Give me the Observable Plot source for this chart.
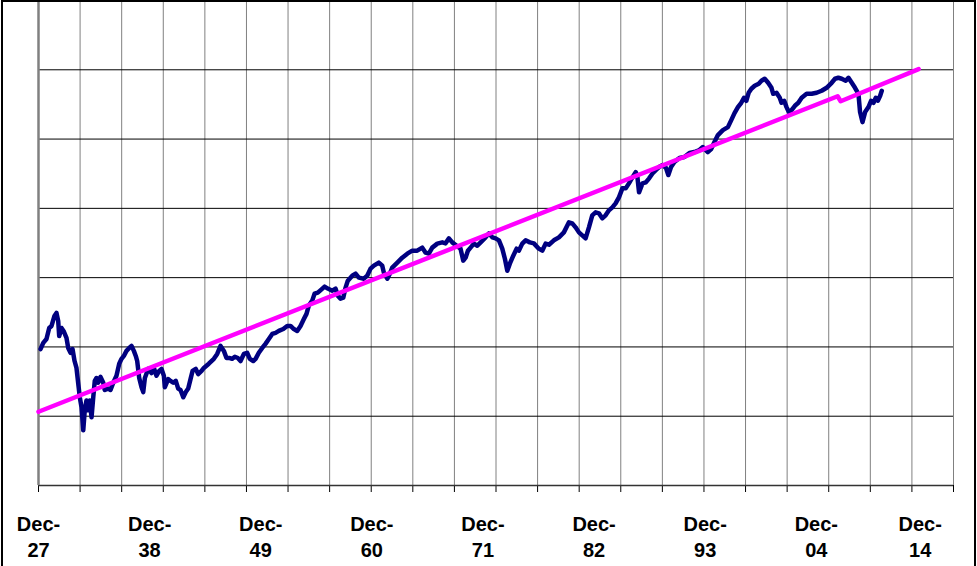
<!DOCTYPE html>
<html>
<head>
<meta charset="utf-8">
<script src="https://cdn.jsdelivr.net/npm/d3@7"></script>
<script src="https://cdn.jsdelivr.net/npm/@observablehq/plot@0.6"></script>
<style>
  html, body { margin: 0; padding: 0; background: #fff; }
  #wrap { position: relative; width: 977px; height: 566px; overflow: hidden; background: #fff; }
  #frame { position: absolute; left: 1px; top: 0; width: 975px; height: 566px; box-sizing: border-box; border: 2px solid #000; border-bottom: none; pointer-events: none; }
  #chart { position: absolute; left: 0; top: 0; }
</style>
</head>
<body>
<div id="wrap"><div id="chart"></div><div id="frame"></div></div>
<script>
// Index series (log scale)
const indexYears = [
  1928.12,1928.39,1928.71,1928.98,1929.21,1929.50,1929.70,1929.87,1929.97,1930.20,
  1930.40,1930.69,1930.86,1931.09,1931.29,1931.49,1931.68,1931.85,1932.01,1932.18,
  1932.35,1932.50,1932.67,1932.84,1933.00,1933.17,1933.34,1933.49,1933.66,1933.83,
  1934.06,1934.33,1934.48,1934.82,1935.05,1935.32,1935.64,1935.91,1936.14,1936.37,
  1936.63,1936.90,1937.13,1937.36,1937.55,1937.69,1937.89,1938.12,1938.29,1938.45,
  1938.78,1939.11,1939.34,1939.60,1939.87,1940.10,1940.33,1940.43,1940.76,1940.99,
  1941.26,1941.51,1941.75,1941.98,1942.25,1942.50,1942.74,1942.97,1943.17,1943.49,
  1943.73,1944.06,1944.29,1944.78,1945.28,1945.61,1945.94,1946.27,1946.53,1946.86,
  1947.10,1947.36,1947.65,1947.92,1948.25,1948.58,1948.84,1949.18,1949.41,1949.73,
  1950.07,1950.39,1950.72,1951.06,1951.39,1951.71,1952.15,1952.54,1952.87,1953.20,
  1953.53,1953.86,1954.19,1954.45,1954.68,1955.02,1955.25,1955.57,1955.91,1956.24,
  1956.56,1957.00,1957.33,1957.55,1957.82,1958.09,1958.32,1958.54,1958.98,1959.31,
  1959.63,1960.13,1960.46,1960.79,1961.12,1961.61,1961.95,1962.11,1962.45,1962.70,
  1962.94,1963.44,1963.93,1964.43,1964.92,1965.41,1965.91,1966.24,1966.56,1966.90,
  1967.40,1967.89,1968.22,1968.55,1968.88,1969.31,1969.70,1969.97,1970.20,1970.43,
  1970.69,1971.02,1971.36,1971.69,1972.18,1972.51,1972.85,1973.17,1973.50,1973.83,
  1974.09,1974.33,1974.58,1974.92,1975.25,1975.47,1975.81,1976.14,1976.56,1976.96,
  1977.45,1977.79,1978.12,1978.45,1978.94,1979.44,1979.93,1980.43,1980.76,1981.09,
  1981.42,1981.75,1982.08,1982.41,1982.74,1983.07,1983.40,1983.73,1984.06,1984.39,
  1984.73,1985.05,1985.38,1985.72,1986.05,1986.37,1986.71,1987.04,1987.21,1987.37,
  1987.71,1988.04,1988.37,1988.70,1989.03,1989.36,1989.71,1990.04,1990.27,1990.54,
  1990.87,1991.37,1991.86,1992.36,1992.85,1993.35,1993.69,1994.18,1994.51,1994.84,
  1995.18,1995.67,1996.17,1996.50,1996.82,1997.16,1997.49,1997.76,1997.99,1998.22,
  1998.49,1998.82,1999.22,1999.49,1999.81,2000.15,2000.48,2000.65,2000.98,2001.30,
  2001.47,2001.74,2001.97,2002.20,2002.47,2002.80,2003.14,2003.47,2003.96,2004.46,
  2004.95,2005.45,2005.94,2006.44,2006.77,2007.10,2007.43,2007.83,2008.10,2008.43,
  2008.75,2009.09,2009.25,2009.49,2009.75,2010.08,2010.34,2010.58,2010.81,2011.01,
  2011.24,2011.40
];
const indexValues = [
  17.4,19.2,20.4,24.3,25.1,29.4,30.9,27.2,21.4,24.3,
  23.2,20.8,17.7,16.4,17.4,14.4,12.9,10.1,8.1,6.9,
  4.8,6.6,7.7,6.6,7.7,5.9,8.1,10.5,11.0,10.2,
  11.2,10.2,9.1,9.3,9.1,10.2,11.4,13.8,14.9,15.6,
  16.9,17.7,18.3,16.9,15.6,14.4,11.0,9.5,8.8,11.0,
  12.7,11.9,12.9,11.4,12.3,12.7,11.4,9.5,10.8,10.5,
  10.2,10.5,9.3,9.1,8.1,8.8,9.3,10.8,12.3,12.7,
  11.7,12.3,12.9,13.8,14.9,16.1,18.3,16.9,15.1,15.1,
  14.9,15.4,15.1,14.4,16.1,16.4,14.9,14.4,14.9,16.4,
  17.7,18.9,20.4,22.1,22.5,23.2,23.9,25.1,25.1,23.9,
  23.2,25.1,28.0,30.4,34.7,37.5,41.9,42.6,44.7,46.8,
  45.4,43.9,45.4,40.6,38.7,39.3,46.1,51.5,55.7,57.5,
  54.0,53.1,55.7,62.3,65.3,68.5,65.3,58.4,53.1,57.5,
  63.3,68.5,74.1,79.0,82.8,82.8,86.9,80.2,79.0,86.9,
  92.6,94.5,93.0,100.7,94.5,89.6,85.5,70.7,74.1,82.8,
  86.9,92.6,89.6,94.5,102.3,109.0,102.3,100.7,97.6,85.5,
  72.9,60.3,67.4,76.5,85.5,82.8,92.6,97.6,94.5,93.0,
  85.5,82.8,92.6,91.0,97.6,102.3,110.7,129.8,127.8,119.9,
  110.7,105.6,100.7,119.9,145.0,152.1,149.7,138.2,145.0,157.0,
  164.6,175.3,192.8,222.4,222.4,240.7,264.7,288.0,265.0,208.8,
  240.7,244.6,260.7,282.0,297.4,311.9,321.9,307.0,274.7,311.9,
  337.5,359.7,365.4,389.4,395.4,408.4,428.2,395.4,414.7,463.3,
  517.6,560.4,587.6,656.6,733.9,806.8,864.3,935.8,892.3,1012.5,
  1079.2,1131.1,1168.3,1225.2,1264.5,1186.3,1096.2,996.6,1012.5,935.8,
  864.3,892.3,806.8,745.5,769.3,824.2,864.3,935.8,996.6,996.6,
  1012.5,1045.2,1096.2,1186.3,1264.5,1284.6,1264.5,1225.2,1284.6,1186.3,
  1096.2,996.6,745.5,636.2,745.5,806.8,892.3,864.3,935.8,892.3,
  965.6,1045.2
];
// Exponential trend line (with its small step near 2007)
const trendYears = [1927.92, 2007.03, 2007.33, 2015.05];
const trendValues = [6.44, 958, 885, 1474];

// Axis
const tickYears = [1927.92, 1938.92, 1949.92, 1960.92, 1971.92, 1982.92, 1993.92, 2004.92, 2015.2];
const tickLabels = ["Dec-27", "Dec-38", "Dec-49", "Dec-60", "Dec-71", "Dec-82", "Dec-93", "Dec-04", "Dec-14"];
const xDomain = [1927.92, 2018.5];
const yGridValues = [6, 18, 54, 162, 486, 1458];
const yDomain = [2, 4374];

const series = indexYears.map((t, i) => ({t, v: indexValues[i]}));
const trend = trendYears.map((t, i) => ({t, v: trendValues[i]}));
const xGrid = d3.range(23).map(i => xDomain[0] + i * (xDomain[1] - xDomain[0]) / 22);
const ticks = tickYears.map((t, i) => ({t, label: tickLabels[i].replace("-", "-\n")}));

const chart = Plot.plot({
  width: 977,
  height: 566,
  marginLeft: 38,
  marginRight: 24,
  marginTop: 0,
  marginBottom: 81,
  x: {type: "linear", domain: xDomain, axis: null},
  y: {type: "log", base: 3, domain: yDomain, axis: null},
  style: {background: "transparent", overflow: "visible", fontFamily: "'Liberation Sans', Arial, sans-serif"},
  marks: [
    Plot.ruleX(xGrid, {x: d => d, stroke: "#808080", strokeWidth: 1}),
    Plot.ruleY(yGridValues, {y: d => d, stroke: "#000", strokeWidth: 1}),
    Plot.ruleX(xGrid, {x: d => d, y1: yDomain[0], y2: yDomain[0], insetBottom: -7, stroke: "#000", strokeWidth: 1}),
    Plot.ruleY([yDomain[0]], {stroke: "#333", strokeWidth: 1.7}),
    Plot.ruleX([xDomain[0]], {stroke: "#808080", strokeWidth: 2.5}),
    Plot.line(series, {x: "t", y: "v", stroke: "#000080", strokeWidth: 4.5, strokeLinejoin: "round", strokeLinecap: "round"}),
    Plot.line(trend, {x: "t", y: "v", stroke: "#FF00FF", strokeWidth: 4.5, strokeLinejoin: "round", strokeLinecap: "round"}),
    Plot.text(ticks, {x: "t", text: "label", frameAnchor: "bottom", dy: 27, lineAnchor: "top", lineHeight: 1.3, fontSize: 20, fontWeight: "bold", fill: "#000"})
  ]
});
document.getElementById("chart").appendChild(chart);
</script>
</body>
</html>
